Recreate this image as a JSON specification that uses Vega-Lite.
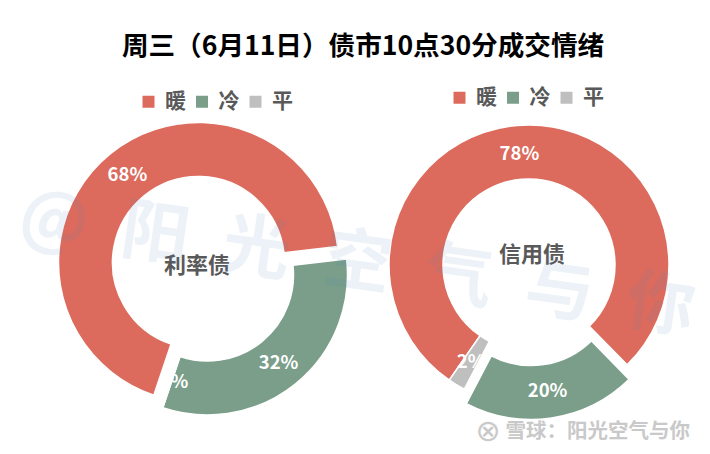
{
  "$schema": "https://vega.github.io/schema/vega-lite/v6.json",
  "width": 710,
  "height": 454,
  "padding": 0,
  "autosize": {"type": "none"},
  "background": "white",
  "title": {
    "text": "周三（6月11日）债市10点30分成交情绪",
    "font": "Noto Sans CJK SC",
    "fontSize": 26.6,
    "fontWeight": "bold",
    "color": "#000000",
    "anchor": "middle",
    "baseline": "middle",
    "dx": 8,
    "offset": -74
  },
  "data": {
    "values": [
      {"chart": "利率债", "name": "暖", "value": 0.68},
      {"chart": "利率债", "name": "冷", "value": 0.32},
      {"chart": "利率债", "name": "平", "value": 0},
      {"chart": "信用债", "name": "暖", "value": 0.78},
      {"chart": "信用债", "name": "冷", "value": 0.20},
      {"chart": "信用债", "name": "平", "value": 0.02}
    ]
  },
  "resolve": {"scale": {"theta": "independent", "color": "independent"}},
  "layer": [
    {
      "transform": [{"filter": "datum.chart === '利率债'"}],
      "encoding": {
        "theta": {"field": "value", "type": "quantitative", "stack": true, "scale": {"domain": [0, 1], "range": [1.456, 7.739]}},
        "order": {"field": "name", "sort": "ascending"}
      },
      "layer": [
        {
          "mark": {
            "type": "arc", "radius": 140, "radius2": 86, "stroke": "white", "strokeWidth": 1.5,
            "xOffset": {"expr": "datum.name === '暖' ? -156.5 : -147.5"},
            "yOffset": {"expr": "datum.name === '暖' ? 35.5 : 48"}
          },
          "encoding": {
            "color": {
              "field": "name", "type": "nominal",
              "scale": {"domain": ["暖", "冷", "平"], "range": ["#DC6B5D", "#7A9E8A", "#BFBFBF"]},
              "legend": {
                "title": null, "orient": "none", "legendX": 138, "legendY": 91, "direction": "horizontal", "columns": 3,
                "symbolType": "square", "symbolSize": 144, "symbolStrokeWidth": 0, "columnPadding": 5.5, "labelOffset": 6, "padding": 0,
                "labelFont": "Noto Sans CJK SC", "labelFontSize": 21, "labelFontWeight": "bold", "labelColor": "#595959"
              }
            }
          }
        },
        {
          "mark": {
            "type": "text", "radius": 113, "color": "white", "fontSize": 18.5, "fontWeight": "bold", "font": "Noto Sans CJK SC", "baseline": "middle",
            "xOffset": {"expr": "datum.name === '暖' ? -156.5 : (datum.name === '平' ? -145 : -147.5)"},
            "yOffset": {"expr": "datum.name === '暖' ? 35.5 : 48"}
          },
          "encoding": {
            "detail": {"field": "name"},
            "text": {"field": "value", "type": "quantitative", "format": ".0%"}
          }
        }
      ]
    },
    {
      "transform": [{"filter": "datum.chart === '信用债'"}],
      "encoding": {
        "theta": {"field": "value", "type": "quantitative", "stack": true, "scale": {"domain": [0, 1], "range": [2.365, 8.648]}},
        "order": {"field": "name", "sort": "ascending"}
      },
      "layer": [
        {
          "mark": {
            "type": "arc", "radius": 140, "radius2": 86, "stroke": "white", "strokeWidth": 1.5,
            "xOffset": {"expr": "datum.name === '冷' ? 176 : 174"},
            "yOffset": {"expr": "datum.name === '冷' ? 52.5 : 38"}
          },
          "encoding": {
            "color": {
              "field": "name", "type": "nominal",
              "scale": {"domain": ["暖", "冷", "平"], "range": ["#DC6B5D", "#7A9E8A", "#BFBFBF"]},
              "legend": {
                "title": null, "orient": "none", "legendX": 449, "legendY": 87, "direction": "horizontal", "columns": 3,
                "symbolType": "square", "symbolSize": 144, "symbolStrokeWidth": 0, "columnPadding": 5.5, "labelOffset": 6, "padding": 0,
                "labelFont": "Noto Sans CJK SC", "labelFontSize": 21, "labelFontWeight": "bold", "labelColor": "#595959"
              }
            }
          }
        },
        {
          "mark": {
            "type": "text", "radius": 112, "color": "white", "fontSize": 18.5, "fontWeight": "bold", "font": "Noto Sans CJK SC", "baseline": "middle",
            "xOffset": {"expr": "datum.name === '冷' ? 176 : 174"},
            "yOffset": {"expr": "datum.name === '冷' ? 53.5 : 39"}
          },
          "encoding": {
            "detail": {"field": "name"},
            "text": {"field": "value", "type": "quantitative", "format": ".0%"}
          }
        }
      ]
    },
    {
      "transform": [{"filter": "datum.name === '暖'"}],
      "mark": {
        "type": "text", "font": "Noto Sans CJK SC", "fontSize": 22, "fontWeight": "bold", "color": "#595959", "baseline": "middle",
        "xOffset": {"expr": "datum.chart === '利率债' ? -158 : 177"},
        "yOffset": {"expr": "datum.chart === '利率债' ? 39 : 28"}
      },
      "encoding": {"text": {"field": "chart"}}
    },
    {
      "data": {"values": [{"mark": "@\u2002阳\u2002光\u2002空\u2002气\u2002与\u2002你"}]},
      "mark": {
        "type": "text", "font": "Noto Sans CJK SC", "fontSize": 68, "fontWeight": "bold", "color": "#4f86b8", "opacity": 0.1,
        "angle": 8, "baseline": "middle", "xOffset": 2, "yOffset": 38
      },
      "encoding": {"text": {"field": "mark"}}
    },
    {
      "data": {"values": [{"mark": "雪球：阳光空气与你"}]},
      "mark": {
        "type": "text", "font": "Noto Sans CJK SC", "fontSize": 20.5, "fontWeight": "bold", "color": "#c9c9c9", "align": "right", "baseline": "middle", "xOffset": 335, "yOffset": 205
      },
      "encoding": {"text": {"field": "mark"}}
    },
    {
      "data": {"values": [{"mark": "⊗"}]},
      "mark": {
        "type": "text", "font": "DejaVu Sans", "fontSize": 30, "color": "#c9c9c9", "baseline": "middle", "xOffset": 133, "yOffset": 205
      },
      "encoding": {"text": {"field": "mark"}}
    }
  ]
}
